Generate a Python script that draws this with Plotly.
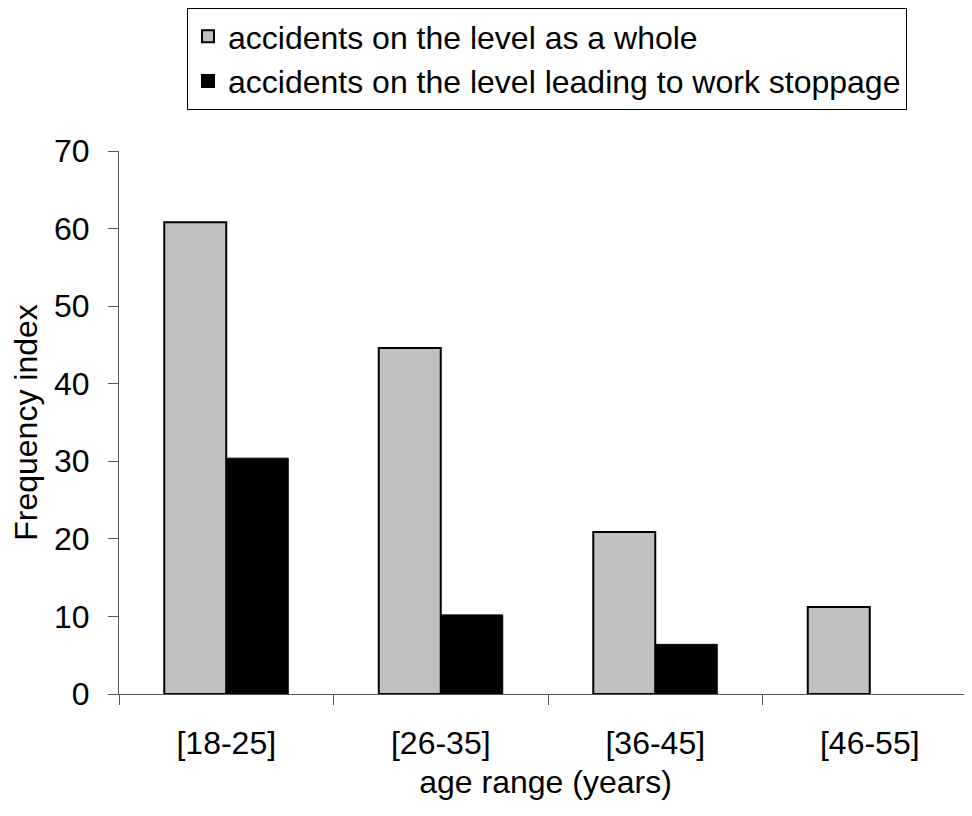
import plotly.graph_objects as go

categories = ["[18-25]", "[26-35]", "[36-45]", "[46-55]"]
whole_values = [60.8, 44.6, 20.9, 11.2]
stoppage_values = [30.4, 10.2, 6.4, None]
series_names = ["accidents on the level as a whole",
                "accidents on the level leading to work stoppage"]
y_ticks = [0, 10, 20, 30, 40, 50, 60, 70]

FONT = "Liberation Sans, Arial, sans-serif"
OFF = 8  # default page body margin
W, H = 972 - OFF, 816 - 2 * OFF
L, R, T, B = 119 - OFF, 0, 151 - OFF, (816 - OFF) - 694
PW = W - L - R
PH = H - T - B

fig = go.Figure()
fig.add_trace(go.Bar(
    x=categories, y=whole_values, name=series_names[0],
    marker=dict(color="#C0C0C0", line=dict(color="black", width=2)),
))
fig.add_trace(go.Bar(
    x=categories, y=stoppage_values, name=series_names[1],
    marker=dict(color="black", line=dict(color="black", width=1)),
))

fig.update_layout(
    width=W, height=H,
    margin=dict(l=L, r=R, t=T, b=B, autoexpand=False),
    paper_bgcolor="white", plot_bgcolor="white",
    font=dict(family=FONT, size=32, color="black"),
    barmode="group", bargap=0.422, bargroupgap=0,
    showlegend=True,
    legend=dict(
        x=(187 - 119) / PW, xanchor="left",
        y=(694 - 8) / PH, yanchor="top",
        bordercolor="black", borderwidth=1, bgcolor="white",
        font=dict(family=FONT, size=32, color="black"),
        tracegroupgap=0, itemsizing="constant",
    ),
    xaxis=dict(
        type="category", range=[-0.5, -0.5 + 4 * PW / 858],
        showline=True, linecolor="#555555", linewidth=1,
        ticks="outside", tickson="boundaries", ticklen=10, tickcolor="#555555",
        showgrid=False, zeroline=False,
        tickfont=dict(family=FONT, size=32, color="black"),
        ticklabelstandoff=21,
        title=dict(text="age range (years)", font=dict(family=FONT, size=32),
                   standoff=10),
        automargin=False,
    ),
    yaxis=dict(
        range=[0, 70], tickvals=y_ticks,
        showline=True, linecolor="#555555", linewidth=1,
        ticks="outside", ticklen=10, tickcolor="#555555",
        showgrid=False, zeroline=False,
        tickfont=dict(family=FONT, size=32, color="black"),
        ticklabelstandoff=12,
        title=dict(text="Frequency index", font=dict(family=FONT, size=32),
                   standoff=18),
        automargin=False,
    ),
)

fig.write_html("out.html")
